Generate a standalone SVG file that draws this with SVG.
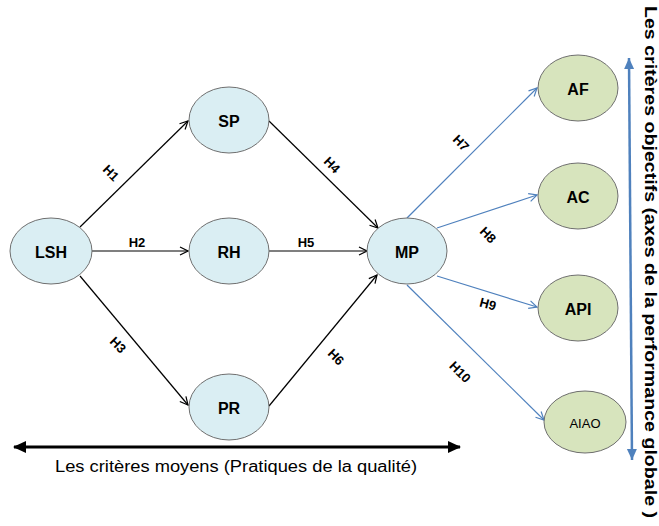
<svg xmlns="http://www.w3.org/2000/svg" width="659" height="526" viewBox="0 0 659 526">
<style>
.nb{fill:#daeef3;stroke:#6f6f6f;stroke-width:1}
.ng{fill:#d7e4bd;stroke:#6f6f6f;stroke-width:1}
.t{font-family:"Liberation Sans",Arial,sans-serif;font-weight:bold;font-size:16px;fill:#000;text-anchor:middle;dominant-baseline:central}
.l{font-family:"Liberation Sans",Arial,sans-serif;font-weight:bold;font-size:13px;fill:#000;text-anchor:middle;dominant-baseline:central}
.k{stroke:#000;stroke-width:1.2;fill:none}
.b{stroke:#4f81bd;stroke-width:1.2;fill:none}
</style>
<defs>
<marker id="ak" markerWidth="10" markerHeight="10" refX="9" refY="5" orient="auto" markerUnits="userSpaceOnUse"><path d="M1,1 L9,5 L1,9" fill="none" stroke="#000" stroke-width="1.2"/></marker>
<marker id="ab" markerWidth="10" markerHeight="10" refX="9" refY="5" orient="auto" markerUnits="userSpaceOnUse"><path d="M1,1 L9,5 L1,9" fill="none" stroke="#4f81bd" stroke-width="1.2"/></marker>
<marker id="fk" markerWidth="14" markerHeight="12" refX="12" refY="6" orient="auto-start-reverse" markerUnits="userSpaceOnUse"><path d="M0,0 L13,6 L0,12 Z" fill="#000"/></marker>
<marker id="fb" markerWidth="12" markerHeight="12" refX="11" refY="6" orient="auto-start-reverse" markerUnits="userSpaceOnUse"><path d="M0,1 L11,6 L0,11 Z" fill="#4f81bd"/></marker>
</defs>
<g id="connectors">
<line class="k" x1="80" y1="227" x2="188" y2="121" marker-end="url(#ak)"/>
<line class="k" x1="92" y1="251" x2="188" y2="251" marker-end="url(#ak)"/>
<line class="k" x1="80" y1="276" x2="188" y2="405" marker-end="url(#ak)"/>
<line class="k" x1="269" y1="121" x2="378" y2="228" marker-end="url(#ak)"/>
<line class="k" x1="269" y1="251" x2="367" y2="251" marker-end="url(#ak)"/>
<line class="k" x1="269" y1="406" x2="377" y2="275" marker-end="url(#ak)"/>
<line class="b" x1="407" y1="218" x2="537" y2="88" marker-end="url(#ab)"/>
<line class="b" x1="437" y1="228" x2="537" y2="195" marker-end="url(#ab)"/>
<line class="b" x1="437" y1="276" x2="537" y2="307" marker-end="url(#ab)"/>
<line class="b" x1="407" y1="285" x2="544" y2="420" marker-end="url(#ab)"/>
<text class="l" transform="translate(111,173) rotate(45)">H1</text>
<text class="l" x="137" y="242">H2</text>
<text class="l" transform="translate(118,345) rotate(45)">H3</text>
<text class="l" transform="translate(332,165) rotate(45)">H4</text>
<text class="l" x="306" y="242">H5</text>
<text class="l" transform="translate(336,357) rotate(45)">H6</text>
<text class="l" transform="translate(461,143) rotate(45)">H7</text>
<text class="l" transform="translate(488,235) rotate(45)">H8</text>
<text class="l" transform="translate(488,304) rotate(15)">H9</text>
<text class="l" transform="translate(460,372) rotate(45)">H10</text>
</g>
<g id="LSH"><ellipse class="nb" cx="51" cy="251" rx="41" ry="33"/><text class="t" x="51" y="252">LSH</text></g>
<g id="SP"><ellipse class="nb" cx="229" cy="120" rx="40" ry="33"/><text class="t" x="229" y="121">SP</text></g>
<g id="RH"><ellipse class="nb" cx="229" cy="251" rx="40" ry="33"/><text class="t" x="229" y="252">RH</text></g>
<g id="PR"><ellipse class="nb" cx="229" cy="407" rx="40" ry="33"/><text class="t" x="229" y="408">PR</text></g>
<g id="MP"><ellipse class="nb" cx="407" cy="251" rx="40" ry="33"/><text class="t" x="407" y="252">MP</text></g>
<g id="AF"><ellipse class="ng" cx="578" cy="88" rx="40" ry="33"/><text class="t" x="578" y="89">AF</text></g>
<g id="AC"><ellipse class="ng" cx="578" cy="196" rx="40" ry="33"/><text class="t" x="578" y="197">AC</text></g>
<g id="API"><ellipse class="ng" cx="578" cy="308" rx="40" ry="33"/><text class="t" x="578" y="309">API</text></g>
<g id="AIAO"><ellipse class="ng" cx="585" cy="422" rx="41" ry="31"/><text class="t" x="585" y="423" style="font-size:13px;font-weight:normal">AIAO</text></g>
<g id="axes">
<line x1="14" y1="447" x2="460" y2="447" stroke="#000" stroke-width="3" marker-start="url(#fk)" marker-end="url(#fk)"/>
<text x="236" y="472" font-family="'Liberation Sans',Arial,sans-serif" font-size="16" text-anchor="middle" textLength="362" lengthAdjust="spacingAndGlyphs">Les critères moyens (Pratiques de la qualité)</text>
<line x1="629" y1="58" x2="632" y2="460" stroke="#4f81bd" stroke-width="2.5" marker-start="url(#fb)" marker-end="url(#fb)"/>
<text transform="translate(645,262) rotate(90)" font-family="'Liberation Sans',Arial,sans-serif" font-weight="bold" font-size="16" text-anchor="middle" textLength="512" lengthAdjust="spacingAndGlyphs">Les critères objectifs (axes de la performance globale )</text>
</g>
</svg>
